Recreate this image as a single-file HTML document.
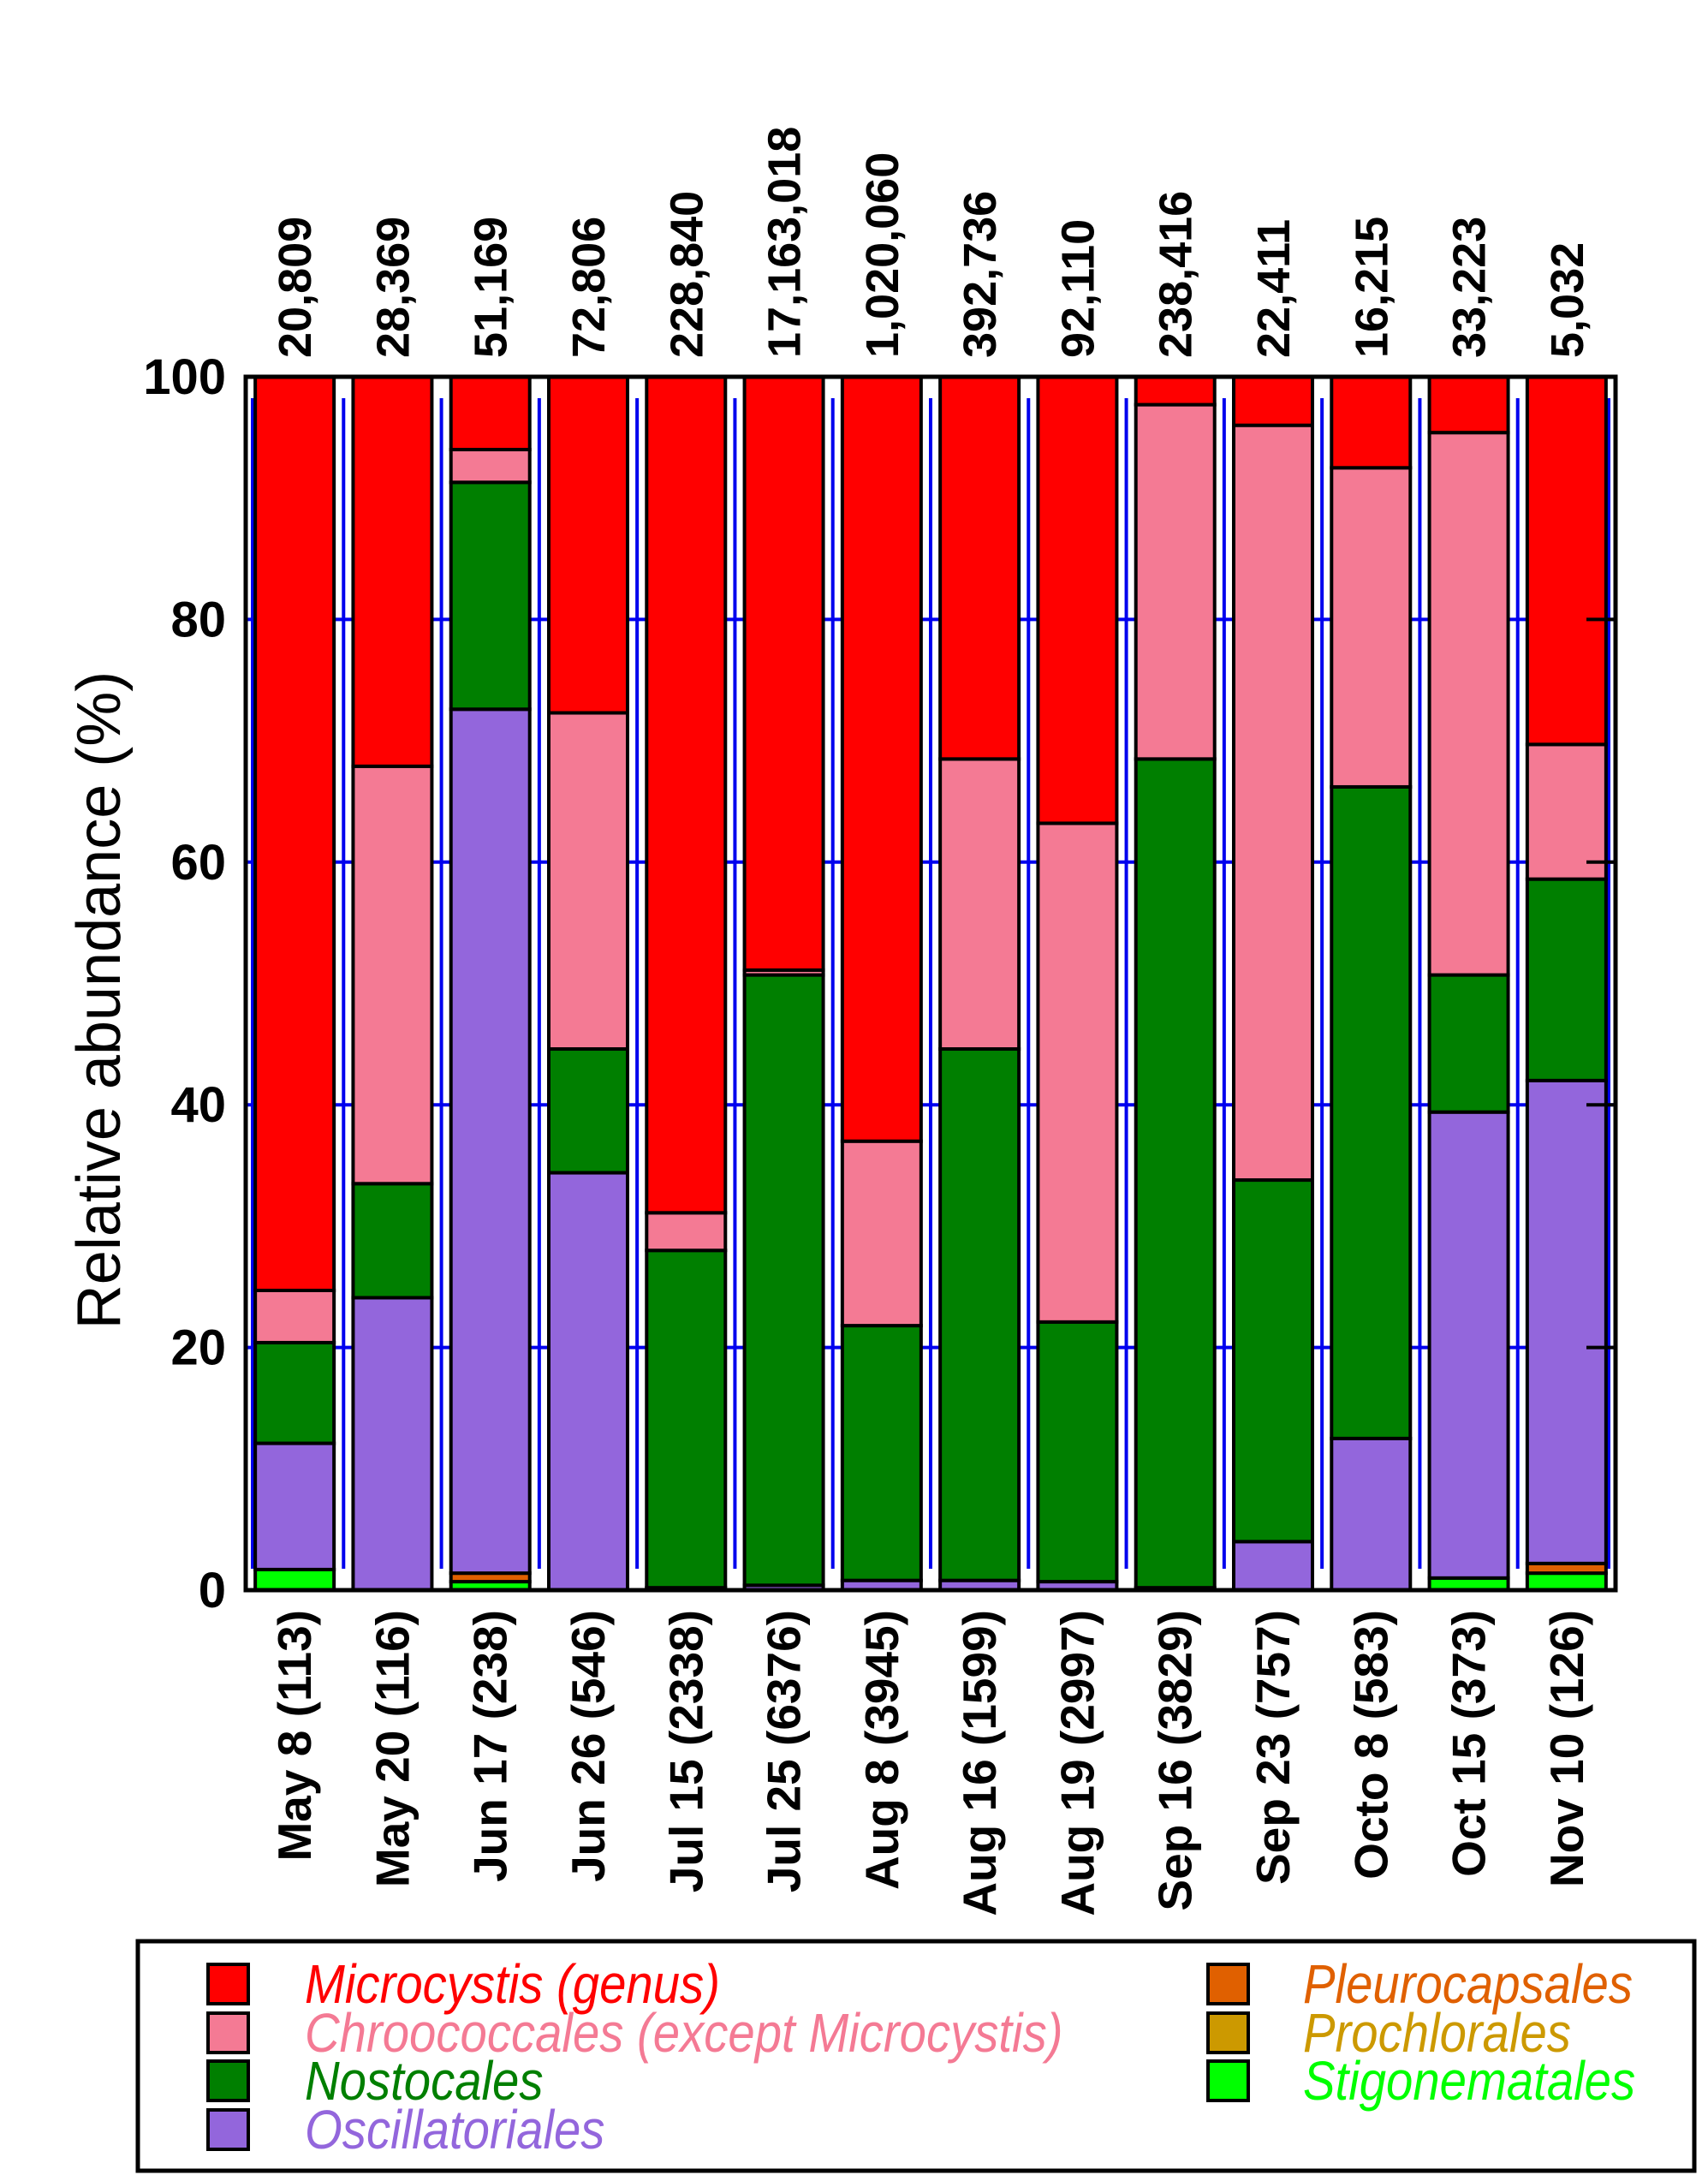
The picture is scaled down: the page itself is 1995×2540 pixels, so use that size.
<!DOCTYPE html>
<html><head><meta charset="utf-8">
<style>
html,body{margin:0;padding:0;background:#fff;}
svg{display:block;font-family:"Liberation Sans",sans-serif;}
</style></head>
<body>
<svg id="chart" width="1995" height="2540" viewBox="0 0 1995 2540" xmlns="http://www.w3.org/2000/svg">
<g id="grid"></g>
<g id="bars"></g>
<g id="axes"></g>
<text transform="translate(140,1168) rotate(-90)" text-anchor="middle" font-size="72">Relative abundance (%)</text>
<g>
<rect x="161" y="2267" width="1818" height="268" fill="none" stroke="#000" stroke-width="5"/>
<g id="legend-items"></g>
</g>
</svg>
<script>
const categories=["May 8 (113)","May 20 (116)","Jun 17 (238)","Jun 26 (546)","Jul 15 (2338)","Jul 25 (6376)","Aug 8 (3945)","Aug 16 (1599)","Aug 19 (2997)","Sep 16 (3829)","Sep 23 (757)","Octo 8 (583)","Oct 15 (373)","Nov 10 (126)"];
const totals=["20,809","28,369","51,169","72,806","228,840","17,163,018","1,020,060","392,736","92,110","238,416","22,411","16,215","33,223","5,032"];
const stigonematales=[1.7,0,0.7,0,0,0,0,0,0,0,0,0,1.0,1.4];
const prochlorales=[0,0,0,0,0,0,0,0,0,0,0,0,0,0];
const pleurocapsales=[0,0,0.7,0,0,0,0,0,0,0,0,0,0,0.8];
const oscillatoriales=[10.4,24.1,71.2,34.4,0.2,0.4,0.8,0.8,0.7,0.2,4.0,12.5,38.4,39.8];
const nostocales=[8.3,9.4,18.7,10.2,27.8,50.3,21.0,43.8,21.4,68.3,29.8,53.7,11.3,16.6];
const chroococcales=[4.3,34.4,2.7,27.7,3.1,0.4,15.2,23.9,41.1,29.2,62.2,26.3,44.7,11.1];
const ticks=[0,20,40,60,80,100];
const seriesNames=["Stigonematales","Prochlorales","Pleurocapsales","Oscillatoriales","Nostocales","Chroococcales (except Microcystis)"];
const seriesData=[stigonematales,prochlorales,pleurocapsales,oscillatoriales,nostocales,chroococcales];
const seriesColors=["#00ff00","#cc9900","#e06000","#9366dc","#007f00","#f47a94"];
const NS="http://www.w3.org/2000/svg";
const L=287,R=1887,T=440,B=1857;
const slot=(R-L)/categories.length;
const y=v=>B-(B-T)*v/100;
const xs=i=>L+slot*i;
function mk(tag,attrs,parent){const e=document.createElementNS(NS,tag);for(const k in attrs)e.setAttribute(k,attrs[k]);parent.appendChild(e);return e;}
const grid=document.getElementById('grid'),bars=document.getElementById('bars'),axes=document.getElementById('axes');
ticks.forEach(t=>{const l=mk('line',{x1:L,x2:R,y1:y(t),y2:y(t),stroke:'#0000ee','stroke-width':4},grid);

});
for(let i=0;i<=categories.length;i++){let x=xs(i);if(i==0)x+=8;if(i==categories.length)x-=8;
const l=mk('line',{x1:x,x2:x,y1:T+25,y2:B-25,stroke:'#0000ee','stroke-width':4},grid);

}
const bw=92;
categories.forEach((c,i)=>{
 const x0=xs(i)+(slot-bw)/2;let acc=0;
 const g=mk('g',{},bars);
 
 
 seriesData.forEach((s,k)=>{const v=s[i];if(v<=0)return;
  const r=mk('rect',{x:x0,y:y(acc+v),width:bw,height:y(acc)-y(acc+v),fill:seriesColors[k],stroke:'#000','stroke-width':4},g);
  
  
  acc+=v;});
 const r=mk('rect',{x:x0,y:y(100),width:bw,height:y(acc)-y(100),fill:'#ff0000',stroke:'#000','stroke-width':4},g);
 
 
 const cx=xs(i)+slot/2;
 const t1=mk('text',{transform:`translate(${cx+19},418) rotate(-90)`,'font-size':54,'font-weight':'bold'},axes);
 t1.textContent=totals[i];
 
 
 const t2=mk('text',{transform:`translate(${cx+19},1880) rotate(-90)`,'font-size':55,'font-weight':'bold','text-anchor':'end'},axes);
 t2.textContent=c;
 
 
});
const f=mk('rect',{x:L,y:T,width:R-L,height:B-T,fill:'none',stroke:'#000','stroke-width':5},axes);


ticks.forEach(t=>{
 const tl=mk('text',{x:264,y:y(t)+20,'font-size':58,'font-weight':'bold','text-anchor':'end'},axes);
 tl.textContent=t;
 
 
 if(t>0&&t<100){const tk=mk('line',{x1:R-34,x2:R,y1:y(t),y2:y(t),stroke:'#000','stroke-width':4},axes);
 
 }
});
const legendNames=["Microcystis (genus)","Chroococcales (except Microcystis)","Nostocales","Oscillatoriales","Pleurocapsales","Prochlorales","Stigonematales"];
const legendColors=["#ff0000","#f47a94","#007f00","#9366dc","#e06000","#cc9900","#00ff00"];
const li=document.getElementById('legend-items');
const rowsY=[2317,2374,2430,2487];
legendNames.forEach((n,i)=>{
 const col=i<4?0:1,row=i<4?i:i-4;
 const sx=col?1411:243,tx=col?1522:356,cy=rowsY[row];
 const g=mk('g',{},li);
 
 
 mk('rect',{x:sx,y:cy-23,width:47,height:46,fill:legendColors[i],stroke:'#000','stroke-width':4},g);
 const t=mk('text',{transform:`translate(${tx},${cy+22}) scale(0.88,1)`,'font-size':64,'font-style':'italic',fill:legendColors[i]},g);
 t.textContent=n;
});
</script>
</body></html>
